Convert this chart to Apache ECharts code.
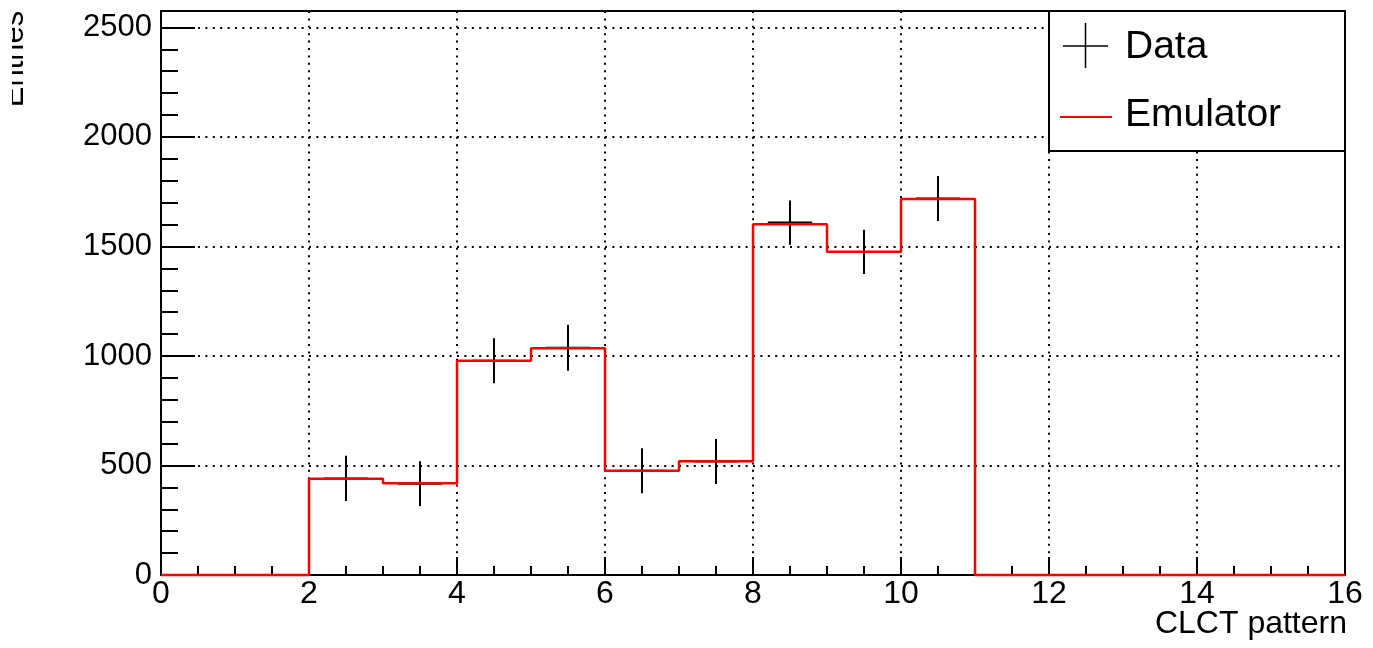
<!DOCTYPE html>
<html>
<head>
<meta charset="utf-8">
<script src="https://cdn.jsdelivr.net/npm/echarts@6/dist/echarts.min.js"></script>
<style>
html,body{margin:0;padding:0;background:#fff;}
#chart{width:1373px;height:648px;}
</style>
</head>
<body>
<div id="chart"></div>
<script>
// ---- data ----
const binLowEdges = [0,1,2,3,4,5,6,7,8,9,10,11,12,13,14,15];
const binWidth = 1;
const emulatorCounts = [0,0,440,419,978,1035,476,519,1601,1476,1717,0,0,0,0,0];
const dataCounts     = [0,0,441,417,978,1037,476,518,1609,1475,1719,0,0,0,0,0];
const dataErrors     = [0,0,103,102,103,105,103,103,101,101,103,0,0,0,0,0];
const xTicks = [0,2,4,6,8,10,12,14,16];
const yTicks = [0,500,1000,1500,2000,2500];
const xTitle = 'CLCT pattern';
const yTitle = 'Entries';
const legendNames = ['Data','Emulator'];

// ---- build series data ----
const stepData = binLowEdges.map((e,i)=>[e, emulatorCounts[i]]);
stepData.push([binLowEdges[binLowEdges.length-1]+binWidth, emulatorCounts[emulatorCounts.length-1]]);
const errData = [];
binLowEdges.forEach((e,i)=>{ if(dataCounts[i]>0) errData.push([e+binWidth/2, dataCounts[i], dataErrors[i]]); });

const FONT = 'Liberation Sans, Arial, Helvetica, sans-serif';
const chart = echarts.init(document.getElementById('chart'), null, {renderer:'canvas'});
const yMax = 2575;

chart.setOption({
  animation:false,
  backgroundColor:'#fff',
  grid:{left:161, right:28, top:11, bottom:73, show:true, borderColor:'#000', borderWidth:2, backgroundColor:'transparent'},
  xAxis:{
    type:'value', min:xTicks[0], max:xTicks[xTicks.length-1], interval:2,
    axisLine:{show:true, onZero:false, lineStyle:{color:'#000', width:2}},
    axisTick:{show:true, inside:true, length:18, lineStyle:{color:'#000', width:2}},
    minorTick:{show:true, splitNumber:4, length:9, lineStyle:{color:'#000', width:2}},
    splitLine:{show:true, lineStyle:{color:'#000', width:2, type:[2,5.4]}},
    axisLabel:{color:'#000', fontFamily:FONT, fontSize:32, margin:3,
      formatter:v=> xTicks.includes(v) ? String(v) : ''}
  },
  yAxis:[{
    type:'value', min:0, max:yMax, interval:500,
    axisLine:{show:true, onZero:false, lineStyle:{color:'#000', width:2}},
    axisTick:{show:true, inside:true, length:34, lineStyle:{color:'#000', width:2}},
    splitLine:{show:true, lineStyle:{color:'#000', width:2, type:[2,5.4]}},
    axisLabel:{color:'#000', fontFamily:FONT, fontSize:31, margin:9, showMaxLabel:true,
      formatter:v=> yTicks.includes(v) ? String(v) : ''}
  },{
    type:'value', min:0, max:yMax, interval:100, position:'left',
    axisLine:{show:false},
    axisTick:{show:true, inside:true, length:17, lineStyle:{color:'#000', width:2}},
    splitLine:{show:false},
    axisLabel:{show:false}
  }],
  series:[{
    name:legendNames[0], type:'custom', yAxisIndex:0, z:3,
    data:errData,
    renderItem:function(params, api){
      const x=api.value(0), y=api.value(1), e=api.value(2);
      const p1=api.coord([x, y-e]), p2=api.coord([x, y+e]);
      const h1=api.coord([x-0.3*binWidth, y]), h2=api.coord([x+0.3*binWidth, y]);
      return {type:'group', children:[
        {type:'line', shape:{x1:p1[0],y1:p1[1],x2:p2[0],y2:p2[1]}, style:{stroke:'#000', lineWidth:2}},
        {type:'line', shape:{x1:h1[0],y1:h1[1],x2:h2[0],y2:h2[1]}, style:{stroke:'#000', lineWidth:2}}
      ]};
    }
  },{
    name:legendNames[1], type:'line', step:'end', yAxisIndex:0, z:4,
    data:stepData, symbol:'none', clip:false,
    lineStyle:{color:'#ff0000', width:2.5}
  }],
  graphic:[
    {type:'text', x:14, y:59, rotation:Math.PI/2, z:10,
      style:{text:yTitle, fontFamily:FONT, fontSize:31, fill:'#000', align:'center', verticalAlign:'middle'}},
    {type:'rect', shape:{x:0,y:0,width:12,height:120}, style:{fill:'#fff'}, z:11},
    {type:'text', x:1347, y:624, z:10,
      style:{text:xTitle, fontFamily:FONT, fontSize:32, fill:'#000', align:'right', verticalAlign:'middle'}},
    {type:'rect', shape:{x:1049,y:11,width:296,height:140}, style:{fill:'#fff', stroke:'#000', lineWidth:2}, z:20},
    {type:'line', shape:{x1:1063,y1:46,x2:1108,y2:46}, style:{stroke:'#000', lineWidth:1.5}, z:21},
    {type:'line', shape:{x1:1085.5,y1:23,x2:1085.5,y2:68}, style:{stroke:'#000', lineWidth:1.5}, z:21},
    {type:'text', x:1125, y:47, z:21,
      style:{text:legendNames[0], fontFamily:FONT, fontSize:39, fill:'#000', align:'left', verticalAlign:'middle'}},
    {type:'line', shape:{x1:1060,y1:117,x2:1112,y2:117}, style:{stroke:'#ff0000', lineWidth:2}, z:21},
    {type:'text', x:1125, y:115, z:21,
      style:{text:legendNames[1], fontFamily:FONT, fontSize:39, fill:'#000', align:'left', verticalAlign:'middle'}}
  ]
});
</script>
</body>
</html>
